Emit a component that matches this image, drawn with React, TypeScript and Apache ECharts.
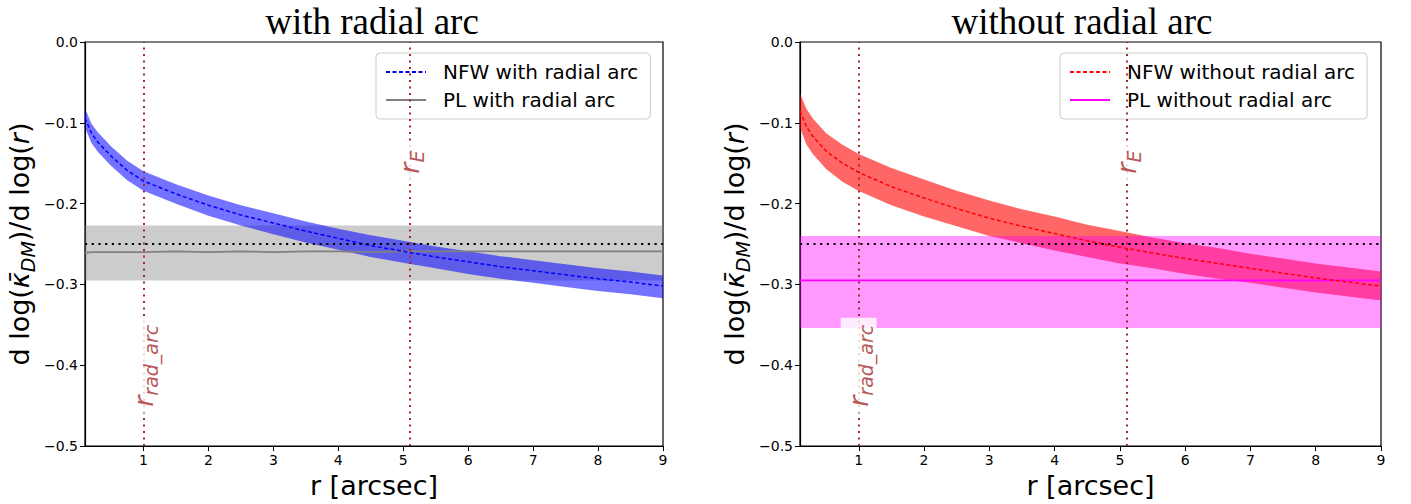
import React, { useEffect, useRef } from "react";
import * as echarts from "echarts";

// ---- data ----
const X = [0.1, 0.2, 0.3, 0.5, 0.75, 1, 1.5, 2, 2.5, 3, 3.5, 4, 4.5, 5, 5.5, 6, 6.5, 7, 7.5, 8, 8.5, 9];

// left panel: with radial arc
const NFW_L = [-0.094, -0.113, -0.124, -0.141, -0.159, -0.172, -0.188, -0.202, -0.214, -0.224, -0.234, -0.243, -0.252, -0.259, -0.266, -0.272, -0.278, -0.283, -0.288, -0.293, -0.297, -0.302];
const NFW_L_HI = [-0.082, -0.101, -0.112, -0.129, -0.147, -0.160, -0.176, -0.190, -0.202, -0.212, -0.222, -0.231, -0.239, -0.246, -0.253, -0.259, -0.265, -0.270, -0.275, -0.280, -0.284, -0.289];
const NFW_L_LO = [-0.106, -0.125, -0.136, -0.153, -0.171, -0.184, -0.200, -0.215, -0.227, -0.238, -0.248, -0.257, -0.266, -0.273, -0.280, -0.287, -0.293, -0.298, -0.303, -0.308, -0.312, -0.317];
const PL_L = [-0.261, -0.260, -0.260, -0.260, -0.260, -0.260, -0.259, -0.260, -0.259, -0.260, -0.259, -0.259, -0.260, -0.259, -0.259, -0.259, -0.259, -0.259, -0.259, -0.259, -0.259, -0.259];
const PL_L_HI = [-0.227, -0.227, -0.227, -0.227, -0.227, -0.227, -0.227, -0.227, -0.227, -0.227, -0.227, -0.227, -0.227, -0.227, -0.227, -0.227, -0.227, -0.227, -0.227, -0.227, -0.227, -0.227];
const PL_L_LO = [-0.295, -0.295, -0.295, -0.295, -0.295, -0.295, -0.295, -0.295, -0.295, -0.295, -0.295, -0.295, -0.295, -0.295, -0.295, -0.295, -0.295, -0.295, -0.295, -0.295, -0.295, -0.295];

// right panel: without radial arc
const NFW_R = [-0.085, -0.105, -0.117, -0.135, -0.150, -0.1615, -0.179, -0.193, -0.206, -0.218, -0.228, -0.237, -0.246, -0.254, -0.261, -0.268, -0.274, -0.280, -0.286, -0.292, -0.297, -0.302];
const NFW_R_HI = [-0.064, -0.083, -0.095, -0.113, -0.127, -0.1385, -0.156, -0.170, -0.184, -0.196, -0.207, -0.216, -0.226, -0.234, -0.242, -0.249, -0.255, -0.262, -0.268, -0.274, -0.279, -0.284];
const NFW_R_LO = [-0.106, -0.127, -0.139, -0.157, -0.173, -0.1845, -0.202, -0.216, -0.228, -0.240, -0.249, -0.258, -0.266, -0.274, -0.280, -0.287, -0.293, -0.298, -0.304, -0.310, -0.315, -0.320];
const PL_R = [-0.295, -0.295, -0.295, -0.295, -0.295, -0.295, -0.295, -0.295, -0.295, -0.295, -0.295, -0.295, -0.295, -0.295, -0.295, -0.295, -0.295, -0.295, -0.295, -0.295, -0.295, -0.295];
const PL_R_HI = [-0.240, -0.240, -0.240, -0.240, -0.240, -0.240, -0.240, -0.240, -0.240, -0.240, -0.240, -0.240, -0.240, -0.240, -0.240, -0.240, -0.240, -0.240, -0.240, -0.240, -0.240, -0.240];
const PL_R_LO = [-0.354, -0.354, -0.354, -0.354, -0.354, -0.354, -0.354, -0.354, -0.354, -0.354, -0.354, -0.354, -0.354, -0.354, -0.354, -0.354, -0.354, -0.354, -0.354, -0.354, -0.354, -0.354];

const X_TICKS = [1, 2, 3, 4, 5, 6, 7, 8, 9];
const R_RAD_ARC = 1;
const R_E = 5.1;
const REF_LEVEL = -0.25;
const LABEL_RAD_POS = [1, -0.4];
const LABEL_E_POS = [5.1, -0.148];
const TITLES = ["with radial arc", "without radial arc"];
const NAMES_L = ["NFW with radial arc", "PL with radial arc"];
const NAMES_R = ["NFW without radial arc", "PL without radial arc"];

const BROWN = "#a52a2a";
const FONT = "DejaVu Sans";

function bandSeries(id: string, idx: number, lo: number[], hi: number[], color: string, z: number) {
  return {
    name: id,
    type: "custom",
    xAxisIndex: idx,
    yAxisIndex: idx,
    silent: true,
    z,
    data: X.map((x, i) => [x, lo[i], hi[i]]),
    encode: { x: 0, y: [1, 2] },
    renderItem: (params: any, api: any) => {
      if (params.dataIndex !== 0) return { type: "group", children: [] };
      const top = X.map((x, i) => api.coord([x, hi[i]]));
      const bot = X.map((x, i) => api.coord([x, lo[i]])).reverse();
      return {
        type: "polygon",
        shape: { points: top.concat(bot) },
        style: { fill: color, stroke: "none" },
      };
    },
  };
}

function lineSeries(name: string, idx: number, ys: number[], color: string, dashed: boolean, width: number) {
  return {
    name,
    type: "line",
    xAxisIndex: idx,
    yAxisIndex: idx,
    symbol: "none",
    showSymbol: false,
    color,
    lineStyle: { color, width, type: dashed ? [4, 2.5] : "solid" },
    data: X.map((x, i) => [x, ys[i]]),
    z: 4,
  };
}

function refSeries(idx: number) {
  return {
    name: "ref" + idx,
    type: "line",
    xAxisIndex: idx,
    yAxisIndex: idx,
    data: [],
    silent: true,
    z: 5,
    markLine: {
      silent: true,
      symbol: "none",
      label: { show: false },
      animation: false,
      data: [
        { xAxis: R_RAD_ARC, lineStyle: { color: BROWN, width: 2, type: [2, 4.5] } },
        { xAxis: R_E, lineStyle: { color: BROWN, width: 2, type: [2, 4.5] } },
        { yAxis: REF_LEVEL, lineStyle: { color: "#000", width: 2.2, type: [2.2, 4.5] } },
      ],
    },
  };
}

function labelSeries(idx: number, pos: number[], sub: string) {
  return {
    name: "lbl" + idx + sub,
    type: "scatter",
    xAxisIndex: idx,
    yAxisIndex: idx,
    symbolSize: 1,
    itemStyle: { color: "rgba(0,0,0,0)" },
    silent: true,
    z: 6,
    data: [pos],
    label: {
      show: true,
      position: "inside",
      rotate: 90,
      align: "center",
      verticalAlign: "middle",
      backgroundColor: "#fff",
      padding: [1, 7, 1, 6],
      formatter: "{r|r}{s|" + sub + "}",
      rich: {
        r: { fontSize: 27, fontStyle: "italic", fontFamily: FONT, color: BROWN, lineHeight: 34 },
        s: { fontSize: 19, fontStyle: "italic", fontFamily: FONT, color: BROWN, verticalAlign: "bottom", lineHeight: 34 },
      },
    },
  };
}

function xAxisDef(idx: number) {
  return {
    type: "value",
    gridIndex: idx,
    min: 0.1,
    max: 9,
    name: "r [arcsec]",
    nameLocation: "middle",
    nameGap: 24,
    nameTextStyle: { fontSize: 27, fontFamily: FONT, color: "#000" },
    axisLine: { show: true, onZero: false, lineStyle: { color: "#000", width: 1.2 } },
    axisTick: { show: true, length: 5, lineStyle: { color: "#000" }, customValues: X_TICKS },
    axisLabel: { fontSize: 14, fontFamily: FONT, color: "#000", margin: 7, customValues: X_TICKS },
    splitLine: { show: false },
  };
}

function yAxisDef(idx: number) {
  return {
    type: "value",
    gridIndex: idx,
    min: -0.5,
    max: 0,
    interval: 0.1,
    name: "d log({k|κ̄}{sub|DM})/d log({it|r})",
    nameLocation: "middle",
    nameRotate: 90,
    nameGap: 48,
    nameTextStyle: {
      fontSize: 27,
      fontFamily: FONT,
      color: "#000",
      lineHeight: 36,
      rich: {
        k: { fontSize: 27, fontStyle: "italic", fontFamily: FONT, color: "#000", lineHeight: 36 },
        sub: { fontSize: 19, fontStyle: "italic", fontFamily: FONT, color: "#000", verticalAlign: "bottom", lineHeight: 36 },
        it: { fontSize: 27, fontStyle: "italic", fontFamily: FONT, color: "#000", lineHeight: 36 },
      },
    },
    axisLine: { show: true, onZero: false, lineStyle: { color: "#000", width: 1.2 } },
    axisTick: { show: true, length: 5, lineStyle: { color: "#000" } },
    axisLabel: {
      fontSize: 14,
      fontFamily: FONT,
      color: "#000",
      margin: 7,
      formatter: (v: number) => (Math.abs(v) < 1e-9 ? "0.0" : "\u2212" + Math.abs(v).toFixed(1)),
    },
    splitLine: { show: false },
  };
}

function legendDef(left: number, names: string[]) {
  return {
    orient: "vertical",
    left,
    top: 53,
    data: names,
    itemWidth: 40,
    itemHeight: 20,
    itemGap: 8,
    padding: [9, 12, 9, 9],
    borderColor: "#cccccc",
    borderWidth: 1,
    borderRadius: 4,
    backgroundColor: "rgba(255,255,255,0.8)",
    itemStyle: { opacity: 0 },
    textStyle: { fontSize: 20, fontFamily: FONT, color: "#000", lineHeight: 20, padding: [0, 0, 0, 12] },
    selectedMode: false,
  };
}

export default function App() {
  const ref = useRef<HTMLDivElement>(null);
  useEffect(() => {
    if (!ref.current) return;
    const chart = echarts.init(ref.current, undefined, { renderer: "svg" });
    const titleStyle = { fontFamily: "Liberation Serif", fontSize: 37, lineHeight: 40, fontWeight: "normal", color: "#000" };
    const option: any = {
      animation: false,
      backgroundColor: "#fff",
      title: [
        { text: TITLES[0], left: 372, top: 1, textAlign: "center", padding: 0, textStyle: titleStyle },
        { text: TITLES[1], left: 1082, top: 1, textAlign: "center", padding: 0, textStyle: titleStyle },
      ],
      grid: [
        { left: 82, top: 42, width: 581, height: 406, show: true, borderColor: "#000", borderWidth: 1.2, backgroundColor: "transparent" },
        { left: 800, top: 42, width: 581, height: 406, show: true, borderColor: "#000", borderWidth: 1.2, backgroundColor: "transparent" },
      ],
      xAxis: [xAxisDef(0), xAxisDef(1)],
      yAxis: [yAxisDef(0), yAxisDef(1)],
      legend: [legendDef(376, NAMES_L), legendDef(1060, NAMES_R)],
      series: [
        bandSeries("plLband", 0, PL_L_LO, PL_L_HI, "rgba(128,128,128,0.4)", 1),
        bandSeries("nfwLband", 0, NFW_L_LO, NFW_L_HI, "rgba(0,0,255,0.55)", 2),
        lineSeries(NAMES_L[1], 0, PL_L, "#808080", false, 1.8),
        lineSeries(NAMES_L[0], 0, NFW_L, "#0000ff", true, 1.5),
        refSeries(0),
        labelSeries(0, LABEL_RAD_POS, "rad_arc"),
        labelSeries(0, LABEL_E_POS, "E"),
        bandSeries("nfwRband", 1, NFW_R_LO, NFW_R_HI, "rgba(255,0,0,0.6)", 1),
        bandSeries("plRband", 1, PL_R_LO, PL_R_HI, "rgba(255,0,255,0.4)", 2),
        lineSeries(NAMES_R[1], 1, PL_R, "#ff00ff", false, 1.8),
        lineSeries(NAMES_R[0], 1, NFW_R, "#ff0000", true, 1.5),
        refSeries(1),
        labelSeries(1, LABEL_RAD_POS, "rad_arc"),
        labelSeries(1, LABEL_E_POS, "E"),
      ],
    };
    chart.setOption(option);
    return () => chart.dispose();
  }, []);
  return (
    <div
      ref={ref}
      style={{ position: "absolute", left: 0, top: 0, width: 1411, height: 504, background: "#fff" }}
    />
  );
}
